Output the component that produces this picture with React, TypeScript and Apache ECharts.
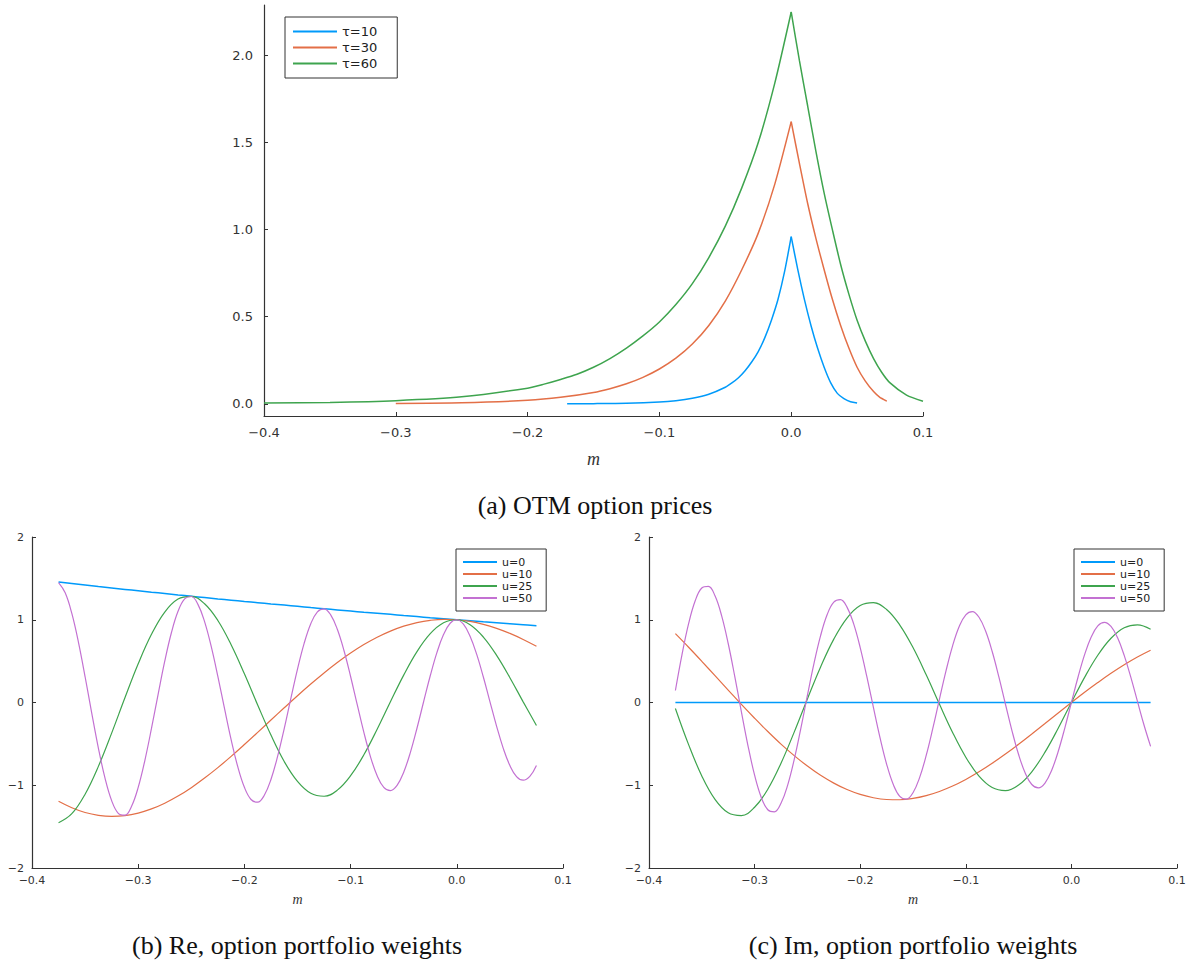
import React, { useEffect, useRef } from "react";
import * as echarts from "echarts";

const TAU_LABELS = ["τ=10", "τ=30", "τ=60"];
const U_LABELS = ["u=0", "u=10", "u=25", "u=50"];
const COLORS = ["#009AFA", "#E36F47", "#3EA44E", "#C371D2"];

const TOP_Y_TICKS = [0, 0.5, 1.0, 1.5, 2.0];

// (a) OTM option prices
const tau10M = [-0.17, -0.15, -0.125, -0.1, -0.0875, -0.075, -0.0625, -0.05, -0.045, -0.04, -0.035, -0.03, -0.025, -0.02, -0.015, -0.01, -0.005, 0, 0.005, 0.01, 0.015, 0.02, 0.025, 0.03, 0.035, 0.04, 0.045, 0.05];
const tau10P = [0.0005, 0.001, 0.003, 0.01, 0.018, 0.032, 0.055, 0.095, 0.12, 0.15, 0.19, 0.24, 0.3, 0.38, 0.48, 0.6, 0.76, 0.96, 0.77, 0.6, 0.45, 0.32, 0.21, 0.12, 0.06, 0.03, 0.012, 0.005];

const tau30M = [-0.3, -0.25, -0.2, -0.175, -0.15, -0.1375, -0.125, -0.1125, -0.1, -0.0875, -0.075, -0.0625, -0.05, -0.0375, -0.025, -0.0125, 0, 0.00625, 0.0125, 0.01875, 0.025, 0.03125, 0.0375, 0.04375, 0.05, 0.05625, 0.0625, 0.0675, 0.0725];
const tau30P = [0.002, 0.006, 0.02, 0.037, 0.065, 0.087, 0.115, 0.152, 0.2, 0.262, 0.343, 0.45, 0.59, 0.77, 0.98, 1.26, 1.62, 1.38, 1.15, 0.95, 0.77, 0.6, 0.45, 0.32, 0.21, 0.13, 0.07, 0.035, 0.015];

const tau60M = [-0.4, -0.35, -0.3, -0.25, -0.2, -0.1875, -0.175, -0.1625, -0.15, -0.1375, -0.125, -0.1125, -0.1, -0.0875, -0.075, -0.0625, -0.05, -0.0375, -0.025, -0.0125, 0, 0.00625, 0.0125, 0.01875, 0.025, 0.03125, 0.0375, 0.04375, 0.05, 0.05625, 0.0625, 0.06875, 0.075, 0.0875, 0.1];
const tau60P = [0.004, 0.008, 0.018, 0.04, 0.09, 0.113, 0.14, 0.17, 0.21, 0.26, 0.32, 0.39, 0.47, 0.57, 0.69, 0.84, 1.02, 1.24, 1.5, 1.84, 2.25, 1.97, 1.71, 1.45, 1.21, 1.0, 0.8, 0.63, 0.48, 0.36, 0.26, 0.18, 0.12, 0.05, 0.015];

// (b), (c) option portfolio weights
const mGrid = [-0.375, -0.3625, -0.35, -0.3375, -0.325, -0.3125, -0.3, -0.2875, -0.275, -0.2625, -0.25, -0.2375, -0.225, -0.2125, -0.2, -0.1875, -0.175, -0.1625, -0.15, -0.1375, -0.125, -0.1125, -0.1, -0.0875, -0.075, -0.0625, -0.05, -0.0375, -0.025, -0.0125, 0, 0.0125, 0.025, 0.0375, 0.05, 0.0625, 0.075];
const mGridFine = [-0.375, -0.36875, -0.3625, -0.35625, -0.35, -0.34375, -0.3375, -0.33125, -0.325, -0.31875, -0.3125, -0.30625, -0.3, -0.29375, -0.2875, -0.28125, -0.275, -0.26875, -0.2625, -0.25625, -0.25, -0.24375, -0.2375, -0.23125, -0.225, -0.21875, -0.2125, -0.20625, -0.2, -0.19375, -0.1875, -0.18125, -0.175, -0.16875, -0.1625, -0.15625, -0.15, -0.14375, -0.1375, -0.13125, -0.125, -0.11875, -0.1125, -0.10625, -0.1, -0.09375, -0.0875, -0.08125, -0.075, -0.06875, -0.0625, -0.05625, -0.05, -0.04375, -0.0375, -0.03125, -0.025, -0.01875, -0.0125, -0.00625, 0, 0.00625, 0.0125, 0.01875, 0.025, 0.03125, 0.0375, 0.04375, 0.05, 0.05625, 0.0625, 0.06875, 0.075];

const reU0 = [1.455, 1.437, 1.419, 1.401, 1.384, 1.367, 1.35, 1.333, 1.317, 1.3, 1.284, 1.268, 1.252, 1.237, 1.221, 1.206, 1.191, 1.177, 1.162, 1.147, 1.133, 1.119, 1.105, 1.091, 1.078, 1.065, 1.051, 1.038, 1.025, 1.013, 1.0, 0.988, 0.975, 0.963, 0.951, 0.939, 0.928];
const reU10 = [-1.194, -1.272, -1.329, -1.363, -1.376, -1.367, -1.336, -1.286, -1.217, -1.131, -1.029, -0.913, -0.787, -0.651, -0.508, -0.361, -0.212, -0.064, 0.082, 0.223, 0.357, 0.483, 0.597, 0.7, 0.789, 0.863, 0.923, 0.966, 0.993, 1.005, 1.0, 0.98, 0.945, 0.896, 0.835, 0.762, 0.679];
const reU25 = [-1.453, -1.344, -1.108, -0.772, -0.37, 0.057, 0.468, 0.824, 1.093, 1.25, 1.283, 1.193, 0.991, 0.698, 0.347, -0.03, -0.394, -0.713, -0.953, -1.097, -1.133, -1.059, -0.885, -0.632, -0.323, 0.009, 0.331, 0.615, 0.832, 0.964, 1.0, 0.94, 0.791, 0.57, 0.3, 0.008, -0.278];
const reU50 = [1.448, 1.325, 1.076, 0.727, 0.311, -0.128, -0.551, -0.914, -1.186, -1.339, -1.362, -1.254, -1.026, -0.701, -0.314, 0.099, 0.499, 0.843, 1.102, 1.253, 1.281, 1.186, 0.977, 0.677, 0.315, -0.072, -0.448, -0.776, -1.025, -1.172, -1.205, -1.121, -0.93, -0.652, -0.315, 0.049, 0.403, 0.714, 0.952, 1.096, 1.132, 1.059, 0.885, 0.628, 0.314, -0.027, -0.361, -0.657, -0.885, -1.025, -1.064, -1.001, -0.842, -0.605, -0.311, 0.009, 0.323, 0.603, 0.821, 0.958, 1.0, 0.946, 0.801, 0.581, 0.308, 0.008, -0.288, -0.554, -0.762, -0.895, -0.939, -0.893, -0.761];

const imU0 = [0, 0, 0, 0, 0, 0, 0, 0, 0, 0, 0, 0, 0, 0, 0, 0, 0, 0, 0, 0, 0, 0, 0, 0, 0, 0, 0, 0, 0, 0, 0, 0, 0, 0, 0, 0, 0];
const imU10 = [0.832, 0.668, 0.498, 0.324, 0.15, -0.023, -0.19, -0.351, -0.503, -0.642, -0.768, -0.88, -0.974, -1.052, -1.111, -1.151, -1.172, -1.175, -1.159, -1.125, -1.075, -1.01, -0.93, -0.838, -0.735, -0.623, -0.504, -0.38, -0.254, -0.126, 0, 0.123, 0.241, 0.353, 0.456, 0.55, 0.632];
const imU25 = [-0.072, -0.509, -0.887, -1.17, -1.333, -1.366, -1.266, -1.048, -0.734, -0.358, 0.043, 0.43, 0.766, 1.021, 1.171, 1.206, 1.124, 0.936, 0.664, 0.335, -0.019, -0.362, -0.661, -0.89, -1.028, -1.065, -0.998, -0.837, -0.6, -0.311, 0, 0.304, 0.571, 0.776, 0.903, 0.939, 0.885];
const imU50 = [0.145, 0.579, 0.952, 1.229, 1.384, 1.404, 1.289, 1.05, 0.713, 0.313, -0.113, -0.523, -0.878, -1.144, -1.296, -1.321, -1.218, -1.001, -0.689, -0.315, 0.085, 0.472, 0.808, 1.063, 1.212, 1.242, 1.153, 0.953, 0.664, 0.315, -0.06, -0.425, -0.744, -0.988, -1.134, -1.168, -1.09, -0.908, -0.64, -0.314, 0.038, 0.382, 0.685, 0.918, 1.06, 1.098, 1.03, 0.863, 0.616, 0.312, -0.018, -0.342, -0.629, -0.852, -0.991, -1.032, -0.973, -0.821, -0.592, -0.309, 0, 0.305, 0.578, 0.791, 0.926, 0.969, 0.919, 0.781, 0.569, 0.306, 0.016, -0.272, -0.53];

const zip = (xs: number[], ys: number[]) => xs.map((x, i) => [x, ys[i]]);
const fmtNum = (v: number, d: number) => {
  if (Math.abs(v) < 1e-9) v = 0;
  return v.toFixed(d).replace("-", "\u2212");
};

const AXIS_COLOR = "#333";
const SANS = "DejaVu Sans";
const SERIF = "Liberation Serif";

function makeX(gridIndex: number, fontSize: number, nameGap: number, nameSize: number, margin: number) {
  return {
    type: "value",
    gridIndex,
    min: -0.4,
    max: 0.1,
    interval: 0.1,
    name: "m",
    nameLocation: "middle",
    nameGap,
    nameTextStyle: { fontFamily: SERIF, fontStyle: "italic", fontSize: nameSize, color: "#333" },
    axisLine: { show: true, onZero: false, lineStyle: { color: AXIS_COLOR, width: 1.2 } },
    axisTick: { show: true, inside: true, length: 4, lineStyle: { color: AXIS_COLOR, width: 1 } },
    splitLine: { show: false },
    axisLabel: { fontFamily: SANS, fontSize, color: "#333", margin, formatter: (v: number) => fmtNum(v, 1) },
  };
}

export default function App() {
  const ref = useRef<HTMLDivElement>(null);
  useEffect(() => {
    if (!ref.current) return;
    const chart = echarts.init(ref.current, undefined, { renderer: "svg" });

    // each OTM curve drawn as two smooth branches that meet at the peak (m = 0)
    const topSeries: any[] = [];
    [
      { name: TAU_LABELS[0], m: tau10M, p: tau10P, c: COLORS[0] },
      { name: TAU_LABELS[1], m: tau30M, p: tau30P, c: COLORS[1] },
      { name: TAU_LABELS[2], m: tau60M, p: tau60P, c: COLORS[2] },
    ].forEach((s) => {
      const k = s.m.indexOf(0);
      const pts = zip(s.m, s.p);
      [pts.slice(0, k + 1), pts.slice(k)].forEach((branch) => {
        topSeries.push({
          type: "line",
          name: s.name,
          xAxisIndex: 0,
          yAxisIndex: 0,
          data: branch,
          symbol: "none",
          showSymbol: false,
          smooth: 0.25,
          color: s.c,
          lineStyle: { color: s.c, width: 1.5 },
        });
      });
    });

    const reData = [reU0, reU10, reU25, reU50];
    const imData = [imU0, imU10, imU25, imU50];
    const mk = (arr: number[][], axis: number) =>
      arr.map((ys, i) => ({
        type: "line",
        name: U_LABELS[i],
        xAxisIndex: axis,
        yAxisIndex: axis,
        data: zip(ys.length === mGridFine.length ? mGridFine : mGrid, ys),
        symbol: "none",
        showSymbol: false,
        smooth: 0.4,
        color: COLORS[i],
        lineStyle: { color: COLORS[i], width: i === 0 ? 1.5 : 1.2 },
      }));

    const legendBase = {
      orient: "vertical",
      icon: "rect",
      itemHeight: 2,
      borderColor: "#333",
      borderWidth: 1,
      borderRadius: 0,
      backgroundColor: "#fff",
    };

    const bottomY = (gridIndex: number) => ({
      type: "value",
      gridIndex,
      min: -2,
      max: 2,
      interval: 1,
      axisLine: { show: true, onZero: false, lineStyle: { color: AXIS_COLOR, width: 1.2 } },
      axisTick: { show: true, inside: true, length: 4, lineStyle: { color: AXIS_COLOR } },
      splitLine: { show: false },
      axisLabel: { fontFamily: SANS, fontSize: 11, color: "#333", margin: 8, formatter: (v: number) => fmtNum(v, 0) },
    });

    chart.setOption({
      animation: false,
      backgroundColor: "#fff",
      grid: [
        { left: 264, right: 273, top: 5, bottom: 551 },
        { left: 32, right: 633, top: 537, bottom: 99 },
        { left: 649, right: 19, top: 537, bottom: 99 },
      ],
      xAxis: [makeX(0, 13, 34, 18, 10), makeX(1, 11, 24, 14, 7), makeX(2, 11, 24, 14, 7)],
      yAxis: [
        {
          type: "value",
          gridIndex: 0,
          min: -0.07,
          max: 2.29,
          axisLine: { show: true, onZero: false, lineStyle: { color: AXIS_COLOR, width: 1.2 } },
          axisTick: { show: true, inside: true, length: 4, customValues: TOP_Y_TICKS, lineStyle: { color: AXIS_COLOR } },
          splitLine: { show: false },
          axisLabel: {
            fontFamily: SANS,
            fontSize: 13,
            color: "#333",
            margin: 11,
            customValues: TOP_Y_TICKS,
            formatter: (v: number) => fmtNum(v, 1),
          },
        },
        bottomY(1),
        bottomY(2),
      ],
      legend: [
        {
          ...legendBase,
          left: 285,
          top: 17,
          data: TAU_LABELS,
          itemWidth: 44,
          itemGap: 1,
          padding: [7, 20, 7, 8],
          textStyle: { fontFamily: SANS, fontSize: 13, color: "#222", lineHeight: 15 },
        },
        {
          ...legendBase,
          left: 456,
          top: 549,
          data: U_LABELS,
          itemWidth: 34,
          itemGap: 0,
          padding: [7, 14, 7, 7],
          textStyle: { fontFamily: SANS, fontSize: 11, color: "#222", lineHeight: 12 },
        },
        {
          ...legendBase,
          left: 1074,
          top: 549,
          data: U_LABELS,
          itemWidth: 34,
          itemGap: 0,
          padding: [7, 14, 7, 7],
          textStyle: { fontFamily: SANS, fontSize: 11, color: "#222", lineHeight: 12 },
        },
      ],
      graphic: [
        {
          type: "text",
          x: 595,
          y: 505,
          style: { text: "(a) OTM option prices", fill: "#111", font: `26px "${SERIF}"`, align: "center", verticalAlign: "middle" },
        },
        {
          type: "text",
          x: 297,
          y: 945,
          style: { text: "(b) Re, option portfolio weights", fill: "#111", font: `26px "${SERIF}"`, align: "center", verticalAlign: "middle" },
        },
        {
          type: "text",
          x: 913,
          y: 945,
          style: { text: "(c) Im, option portfolio weights", fill: "#111", font: `26px "${SERIF}"`, align: "center", verticalAlign: "middle" },
        },
      ],
      series: [...topSeries, ...mk(reData, 1), ...mk(imData, 2)],
    });
    return () => chart.dispose();
  }, []);
  return <div ref={ref} style={{ position: "absolute", left: 0, top: 0, width: 1196, height: 967, background: "#fff" }} />;
}
